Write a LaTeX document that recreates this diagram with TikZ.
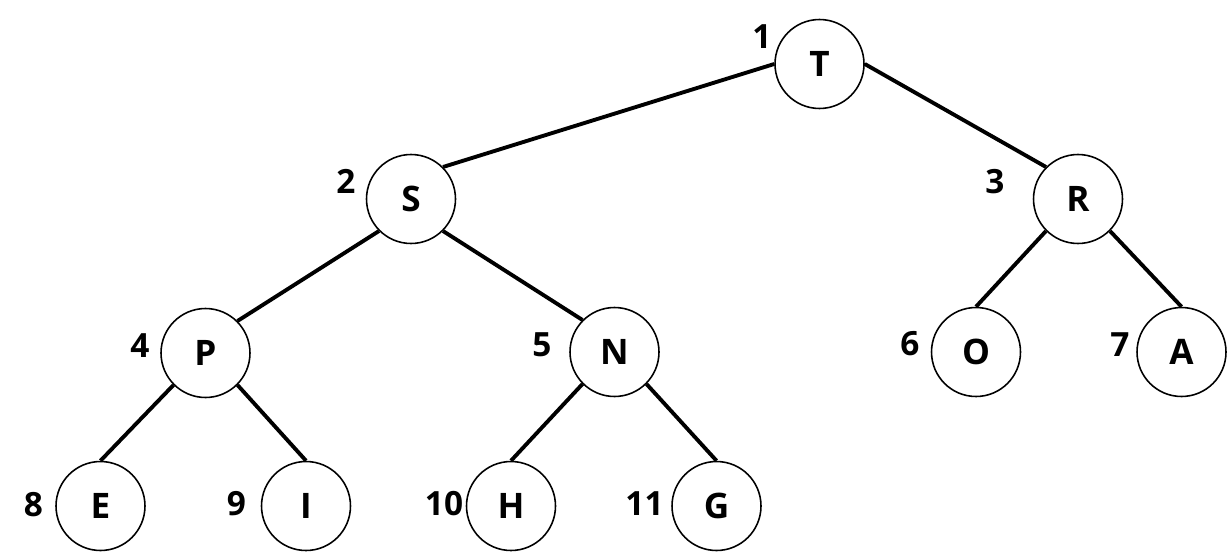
\documentclass[tikz,border=0pt]{standalone}
\usepackage{fontspec}
\setmainfont{Open Sans}
\usepackage{tikz}

\begin{document}
\begin{tikzpicture}[x=0.02cm, y=-0.02cm,
  vertex/.style={circle, draw=black, line width=0.9pt, minimum size=1.78cm, inner sep=0pt, font=\fontsize{20}{24}\selectfont\bfseries},
  index/.style={inner sep=0pt, font=\fontsize{19}{22}\selectfont\bfseries},
  branch/.style={draw=black, line width=2.2pt}]
\useasboundingbox (0,0) rectangle (1227,551);

\node (T) [vertex] at (819.5,64) {T};
\node (S) [vertex] at (411,199) {S};
\node (R) [vertex] at (1078,199) {R};
\node (P) [vertex] at (205.5,353) {P};
\node (N) [vertex] at (614.5,352) {N};
\node (O) [vertex] at (976,352) {O};
\node (A) [vertex] at (1181.5,352) {A};
\node (E) [vertex] at (100.5,506) {E};
\node (I) [vertex] at (306,506) {I};
\node (H) [vertex] at (511,506) {H};
\node (G) [vertex] at (716.5,506) {G};

\node (n1) [index] at (762,37) {1};
\node (n2) [index] at (346,181) {2};
\node (n3) [index] at (995,182) {3};
\node (n4) [index] at (140,346) {4};
\node (n5) [index] at (542,345) {5};
\node (n6) [index] at (910,344) {6};
\node (n7) [index] at (1120,345) {7};
\node (n8) [index] at (33.5,505) {8};
\node (n9) [index] at (236.5,504) {9};
\node (n10) [index] at (444,504) {10};
\node (n11) [index] at (644.5,504) {11};

\draw[branch] (T.west) -- (S.north east);
\draw[branch] (T.east) -- (R.north west);
\draw[branch] (S.south west) -- (P.north east);
\draw[branch] (S.south east) -- (N.north west);
\draw[branch] (R.south west) -- (O.north);
\draw[branch] (R.south east) -- (A.north);
\draw[branch] (P.south west) -- (E.north);
\draw[branch] (P.south east) -- (I.north);
\draw[branch] (N.south west) -- (H.north);
\draw[branch] (N.south east) -- (G.north);

\end{tikzpicture}
\end{document}
